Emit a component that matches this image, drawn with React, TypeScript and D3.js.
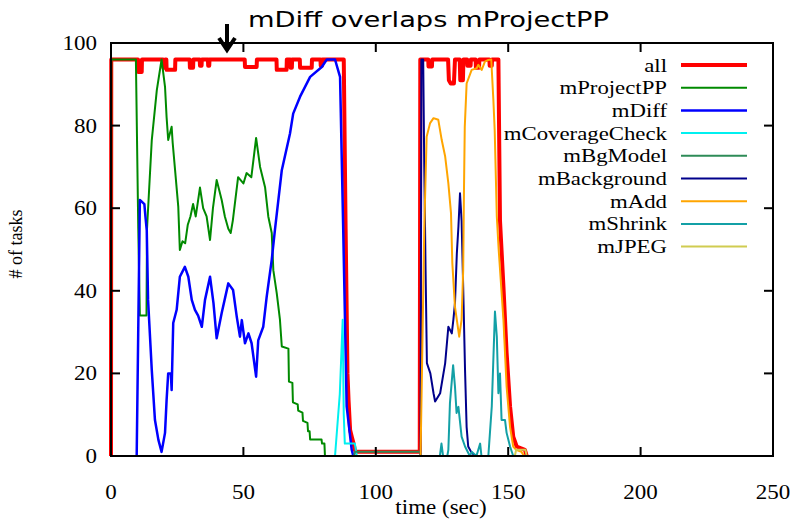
import React from "react";
import * as d3 from "d3";

// Running task counts over time, per workflow stage: [time (sec), tasks]
const allTasks: [number, number][] = [
  [0, 0], [0.1, 96], [10.2, 96], [10.3, 93], [11.6, 93], [11.7, 96], [19.7, 96], [19.8, 94], [20.4, 94], [20.5, 96],
  [20.9, 96], [21, 93.5], [24.2, 93.5], [24.3, 96], [29.7, 96], [29.8, 94], [31, 94], [31.1, 96], [33.5, 96], [33.6, 94.5],
  [34.2, 94.5], [34.3, 96], [36.6, 96], [36.7, 94.5], [37.1, 94.5], [37.2, 96], [50.5, 96], [50.6, 94.2], [55, 94.2], [55.1, 96],
  [62.5, 96], [62.6, 93.5], [66.3, 93.5], [66.4, 96], [67.7, 96], [67.8, 94], [68.3, 94], [68.4, 96], [71.3, 96], [71.4, 94],
  [75.8, 94], [75.9, 96], [79.1, 96], [79.2, 94.5], [79.7, 94.5], [79.8, 96], [87.9, 96], [88.6, 55], [89.3, 20], [89.7, 13.6],
  [90.3, 6.3], [91, 4.5], [91.6, 3], [92.1, 1.5], [92.4, 1], [116.6, 1], [116.8, 96], [119.8, 96], [119.9, 94.3], [121.2, 94.3],
  [121.3, 96], [127.3, 96], [127.6, 91], [128.3, 90.2], [129.5, 90.2], [129.9, 96], [131.7, 96], [131.9, 91], [132.9, 91], [133.1, 96],
  [134.5, 96], [134.6, 94.5], [135.8, 94.5], [135.9, 96], [137.7, 96], [137.8, 94], [139, 94], [139.1, 96], [142.9, 96], [143, 94.5],
  [143.8, 94.5], [143.9, 96], [146.3, 96], [146.9, 57], [148.2, 41], [149.4, 25], [150.7, 12], [151.9, 4.7], [153.2, 2.3], [156.3, 1.5],
  [157, 0],
];

const mProjectPP: [number, number][] = [
  [0, 0], [0.1, 96], [9.4, 96], [10.3, 55], [10.9, 34], [13.4, 34], [13.6, 55], [15.4, 76.5], [17.3, 88.6], [19.1, 96],
  [20.4, 89.4], [21, 82], [21.6, 76.5], [22.9, 79.7], [23.3, 75.8], [24.2, 69.2], [25.4, 60.4], [26, 49.9], [27, 52], [28, 51.5],
  [29, 56], [30, 58], [31, 61], [32, 58], [33.6, 65], [34.8, 60], [36.1, 58], [37.4, 52.3], [38.5, 60], [39.9, 66.8],
  [41.8, 62], [43, 58], [44.3, 55], [45.2, 54], [46, 57], [48, 67.5], [50, 66], [51.2, 68.5], [53, 67.5], [54.8, 77],
  [56.3, 70], [58.2, 65], [59.4, 58], [60.7, 54], [61.3, 45], [62.6, 39.4], [63.8, 33], [64.5, 26.5], [67, 26], [67.2, 18],
  [68.5, 17.7], [68.7, 13], [70.5, 12.5], [70.7, 11], [72.3, 10.5], [72.5, 8.5], [74.2, 8], [74.4, 6], [75, 6], [75.2, 4],
  [79.5, 4], [79.7, 3], [80.6, 3], [80.8, 0],
];

const mDiff: [number, number][] = [
  [9.7, 0], [10.9, 62], [12.6, 61], [13, 58], [13.5, 54.7], [14, 37.8], [15.4, 20.8], [16.6, 8.7], [17.9, 3.9], [19.1, 1],
  [20.4, 5.6], [21, 13.6], [21.6, 20], [22.6, 20], [22.9, 16], [23.5, 32.2], [24.8, 35.4], [26, 43.4], [27.9, 45.8], [29.2, 43.4],
  [30.5, 37.8], [31.7, 35.4], [32.9, 34], [34.3, 31.3], [35.5, 37.8], [37.4, 43.4], [38.7, 37], [39.9, 28.5], [41.8, 34.6], [44.3, 41.8],
  [46.1, 40.2], [47.5, 33.7], [48.7, 28.9], [49.4, 32.9], [50.6, 27.3], [51.9, 29.7], [53.1, 27.3], [54.8, 19.2], [55.6, 28], [57.5, 31.3],
  [58.8, 38.6], [60.7, 47.5], [61.9, 54.7], [64.5, 69.2], [67.6, 78.1], [68.8, 82.9], [71.4, 87], [75.2, 91.8], [79.6, 94.2], [81.5, 96],
  [84.6, 96], [86.5, 91.8], [87.7, 54.7], [89, 12], [90.9, 1.5], [91.5, 0],
];

const mCoverageCheck: [number, number][] = [
  [84.6, 0], [86.4, 15], [87.5, 33], [87.9, 10], [88.3, 3], [92.1, 3], [92.8, 0],
];

const mBgModel: [number, number][] = [
  [91.8, 0], [92.1, 1], [116.7, 1], [117, 0],
];

const mBackground: [number, number][] = [
  [116.9, 0], [117.2, 96], [117.9, 96], [118.3, 70], [118.8, 45], [119.3, 22.5], [120.6, 20], [121.8, 15.2], [122.4, 13.2], [124.3, 15.2],
  [126.2, 22.5], [127.4, 31.3], [128.7, 29.7], [129.3, 33], [129.9, 37], [130.6, 49], [131.2, 55.5], [131.8, 63.6], [132.4, 57], [133, 41],
  [133.7, 20.8], [134.3, 7], [134.9, 2.3], [136, 1], [137.5, 0],
];

const mAdd: [number, number][] = [
  [116.9, 0], [117.6, 27], [118.3, 55], [119.2, 77.3], [120.5, 80.6], [121.8, 81.8], [123.6, 81.4], [124.9, 76.5], [126.2, 72.5], [127.4, 66],
  [128.4, 58.8], [128.9, 46.7], [129.9, 36.1], [131.5, 28.9], [132.4, 33], [133, 45], [133.3, 64.4], [133.6, 79.7], [134.3, 90.2], [136.2, 93.5],
  [138.1, 93.9], [138.7, 94.7], [140, 93.5], [141.2, 95.5], [142.5, 95.9], [143.6, 96], [144.4, 86.2], [144.9, 78.9], [145.7, 58], [146.4, 50],
  [148.2, 33], [149.4, 16.8], [150.7, 7], [151.9, 2.3], [153, 1.5], [155, 1], [156, 0],
];

const mShrink: [number, number][] = [
  [124.2, 0], [124.8, 3], [125.4, 0], [127, 0], [127.4, 1.5], [128, 12.8], [129.2, 22], [129.9, 16.8], [130.5, 10.4], [131.2, 11.9],
  [132.4, 4.7], [133.7, 2.3], [135.5, 0], [136.3, 1], [138, 0], [139.4, 3], [139.9, 0], [142.5, 0], [143.8, 12], [145, 35],
  [145.7, 28.9], [146.3, 15.2], [146.9, 20], [147.5, 8.7], [148.8, 8.7], [149.4, 5.6], [150.7, 2.3], [151.9, 0],
];

const mJPEG: [number, number][] = [
  [152.5, 0], [153, 1.5], [156.5, 1.5], [157, 0],
];

const seriesNames = ["all", "mProjectPP", "mDiff", "mCoverageCheck", "mBgModel", "mBackground", "mAdd", "mShrink", "mJPEG"];
const seriesData = [allTasks, mProjectPP, mDiff, mCoverageCheck, mBgModel, mBackground, mAdd, mShrink, mJPEG];
const seriesColors = ["#ff0000", "#008a00", "#0000ff", "#00f0f0", "#2e8b57", "#00008b", "#ffa500", "#13a0a6", "#d0cc50"];
const seriesWidths = [4, 2, 2.5, 2, 2, 2, 2, 2, 2];

const xTicks = [0, 50, 100, 150, 200, 250];
const yTicks = [0, 20, 40, 60, 80, 100];

const titleText = "mDiff overlaps mProjectPP";
const xLabel = "time (sec)";
const yLabel = "# of tasks";

const W = 792;
const H = 523;
const left = 111;
const right = 773;
const top = 43;
const bottom = 456;
const serif = "'Liberation Serif', 'Times New Roman', serif";

export default function App() {
  const x = d3.scaleLinear().domain([0, 250]).range([left, right]);
  const y = d3.scaleLinear().domain([0, 100]).range([bottom, top]);
  const line = d3
    .line<[number, number]>()
    .x((d) => x(d[0]))
    .y((d) => y(d[1]));
  const tickLen = 9;
  const sx = 1.15;

  return (
    <svg
      width={W}
      height={H}
      style={{ position: "absolute", left: 0, top: 0, background: "#fff" }}
    >
      <rect x={0} y={0} width={W} height={H} fill="#fff" />

      {/* series */}
      <g fill="none" strokeLinejoin="round" strokeLinecap="butt">
        {seriesData.map((d, i) => (
          <path key={seriesNames[i]} d={line(d) || ""} stroke={seriesColors[i]} strokeWidth={seriesWidths[i]} />
        ))}
      </g>

      {/* frame and ticks */}
      <rect x={left} y={top} width={right - left} height={bottom - top} fill="none" stroke="#000" strokeWidth={2} />
      {x.ticks(5).map((t) => (
        <g key={"xt" + t}>
          <line x1={x(t)} x2={x(t)} y1={bottom} y2={bottom - tickLen} stroke="#000" strokeWidth={2} />
          <line x1={x(t)} x2={x(t)} y1={top} y2={top + tickLen} stroke="#000" strokeWidth={2} />
        </g>
      ))}
      {y.ticks(5).map((t) => (
        <g key={"yt" + t}>
          <line x1={left} x2={left + tickLen} y1={y(t)} y2={y(t)} stroke="#000" strokeWidth={2} />
          <line x1={right} x2={right - tickLen} y1={y(t)} y2={y(t)} stroke="#000" strokeWidth={2} />
        </g>
      ))}

      {/* tick labels */}
      <g fontFamily={serif} fontSize={20} fill="#000">
        {xTicks.map((t) => (
          <g key={"xl" + t} transform={`translate(${x(t)},${bottom + 43}) scale(${sx},1)`}>
            <text textAnchor="middle">{t}</text>
          </g>
        ))}
        {yTicks.map((t) => (
          <g key={"yl" + t} transform={`translate(97,${y(t) + 7}) scale(${sx},1)`}>
            <text textAnchor="end">{t}</text>
          </g>
        ))}
      </g>

      {/* axis titles */}
      <g transform={`translate(${(left + right) / 2 - 1},514) scale(${sx},1)`}>
        <text textAnchor="middle" fontFamily={serif} fontSize={20}>{xLabel}</text>
      </g>
      <text
        transform="translate(22,244) rotate(-90)"
        textAnchor="middle"
        fontFamily={serif}
        fontSize={18}
      >
        {yLabel}
      </text>

      {/* legend */}
      <g fontFamily={serif} fontSize={19}>
        {seriesNames.map((name, i) => {
          const ly = 65 + i * 22.7;
          return (
            <g key={"lg" + name}>
              <g transform={`translate(667,${ly + 6.5}) scale(1.2,1)`}>
                <text textAnchor="end">{name}</text>
              </g>
              <line x1={681} x2={747} y1={ly} y2={ly} stroke={seriesColors[i]} strokeWidth={seriesWidths[i]} />
            </g>
          );
        })}
      </g>

      {/* title with pointer arrow */}
      <text
        x={248}
        y={27}
        fontFamily="'DejaVu Sans', Verdana, sans-serif"
        fontSize={21}
        textLength={361}
        lengthAdjust="spacingAndGlyphs"
      >
        {titleText}
      </text>
      <g stroke="#000" strokeWidth={4} fill="none" strokeLinecap="butt">
        <line x1={227} x2={227} y1={24} y2={49} />
        <polyline points="219,38 227,50 235,38" strokeLinejoin="miter" />
      </g>
    </svg>
  );
}
